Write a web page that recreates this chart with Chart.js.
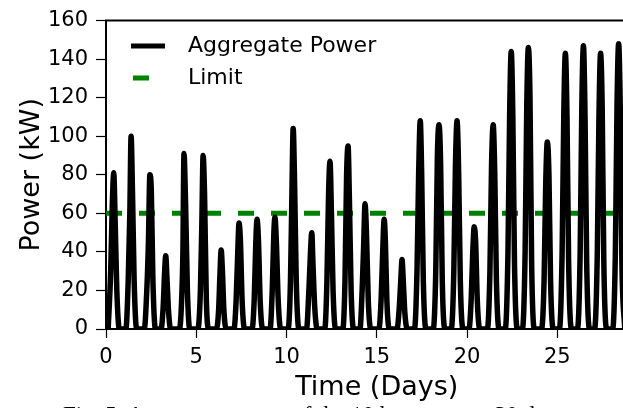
<!DOCTYPE html>
<html>
<head>
<meta charset="utf-8">
<script src="https://cdn.jsdelivr.net/npm/chart.js@4.4.0/dist/chart.umd.min.js"></script>
<style>
    html, body { margin: 0; padding: 0; background: #fff; overflow: hidden; }
    #wrap { position: relative; width: 623px; height: 408px; overflow: hidden; }
    #chart { position: absolute; left: 0; top: 0; }
    #caption { position: absolute; left: 63px; top: 403px; font-family: "Liberation Serif", serif; font-size: 23px; line-height: 23px; white-space: nowrap; color: #000; }
</style>
</head>
<body>
<div id="wrap">
    <canvas id="chart" width="680" height="408"></canvas>
    <div id="caption">Fig. 5: Aggregate power of the 10 houses over 30 days</div>
</div>
<script>
const timeDays = [
    0.12, 0.26, 0.35, 0.43, 0.51, 0.60, 0.74,
    1.10, 1.23, 1.32, 1.39, 1.47, 1.56, 1.70,
    2.12, 2.26, 2.35, 2.43, 2.51, 2.60, 2.74,
    3.05, 3.17, 3.25, 3.31, 3.38, 3.46, 3.58,
    4.07, 4.19, 4.26, 4.32, 4.41, 4.51, 4.64,
    5.09, 5.23, 5.31, 5.38, 5.46, 5.56, 5.70,
    6.12, 6.24, 6.32, 6.38, 6.45, 6.53, 6.66,
    7.09, 7.21, 7.30, 7.37, 7.45, 7.54, 7.68,
    8.09, 8.21, 8.30, 8.37, 8.45, 8.54, 8.68,
    9.09, 9.21, 9.30, 9.36, 9.44, 9.54, 9.68,
    10.09, 10.22, 10.30, 10.37, 10.45, 10.54, 10.69,
    11.11, 11.24, 11.33, 11.40, 11.47, 11.56, 11.70,
    12.12, 12.24, 12.33, 12.41, 12.49, 12.58, 12.72,
    13.12, 13.24, 13.33, 13.41, 13.49, 13.58, 13.72,
    14.07, 14.19, 14.28, 14.35, 14.43, 14.53, 14.67,
    15.12, 15.24, 15.33, 15.41, 15.48, 15.56, 15.70,
    16.12, 16.24, 16.33, 16.40, 16.47, 16.56, 16.70,
    17.09, 17.23, 17.32, 17.41, 17.49, 17.58, 17.73,
    18.13, 18.27, 18.36, 18.45, 18.54, 18.63, 18.78,
    19.13, 19.27, 19.36, 19.45, 19.54, 19.63, 19.78,
    20.11, 20.23, 20.32, 20.40, 20.48, 20.57, 20.71,
    21.13, 21.27, 21.36, 21.45, 21.54, 21.63, 21.78,
    22.12, 22.27, 22.36, 22.45, 22.54, 22.63, 22.79,
    23.07, 23.22, 23.31, 23.40, 23.49, 23.58, 23.74,
    24.13, 24.27, 24.36, 24.45, 24.54, 24.63, 24.78,
    25.12, 25.27, 25.36, 25.45, 25.54, 25.63, 25.79,
    26.12, 26.27, 26.36, 26.45, 26.54, 26.63, 26.79,
    27.07, 27.22, 27.31, 27.40, 27.49, 27.58, 27.74,
    28.07, 28.22, 28.31, 28.40, 28.49, 28.58, 28.74
];
const aggregatePower = [
    0, 30, 65, 81, 55, 20, 0,
    0, 25, 60, 100, 70, 25, 0,
    0, 20, 45, 80, 72, 25, 0,
    0, 12, 30, 38, 26, 10, 0,
    0, 15, 40, 91, 65, 20, 0,
    0, 20, 55, 90, 70, 15, 0,
    0, 10, 30, 41, 30, 10, 0,
    0, 15, 40, 55, 45, 15, 0,
    0, 15, 45, 57, 45, 15, 0,
    0, 20, 50, 58, 45, 15, 0,
    0, 25, 70, 104, 75, 25, 0,
    0, 20, 40, 50, 33, 12, 0,
    0, 25, 70, 87, 60, 20, 0,
    0, 25, 80, 95, 65, 20, 0,
    0, 20, 45, 65, 50, 15, 0,
    0, 15, 40, 57, 45, 15, 0,
    0, 10, 25, 36, 25, 8, 0,
    0, 30, 80, 108, 80, 25, 0,
    0, 30, 90, 106, 85, 25, 0,
    0, 30, 85, 108, 80, 25, 0,
    0, 15, 40, 53, 45, 15, 0,
    0, 30, 85, 106, 80, 25, 0,
    0, 40, 110, 144, 110, 35, 0,
    0, 40, 115, 146, 120, 35, 0,
    0, 25, 75, 97, 80, 25, 0,
    0, 40, 110, 143, 110, 35, 0,
    0, 40, 115, 147, 110, 35, 0,
    0, 40, 110, 143, 115, 35, 0,
    0, 40, 115, 148, 115, 35, 0
];
const limitDays = [0, 30];
const limitPower = [60, 60];
const seriesLabels = ['Aggregate Power', 'Limit'];

function toPoints(xs, ys) {
    return xs.map(function (x, i) {
        return { x: x, y: ys[i] };
    });
}

const axisFont = { family: 'DejaVu Sans', size: 21 };
const titleFont = { family: 'DejaVu Sans', size: 27 };

// matplotlib style legend in the upper left of the axes, plus the top spine
const framePlugin = {
    id: 'frame',
    afterDraw: function (chart) {
        const ctx = chart.ctx;
        const a = chart.chartArea;
        ctx.save();
        ctx.strokeStyle = '#000';
        ctx.lineWidth = 2;
        ctx.beginPath();
        ctx.moveTo(a.left - 1, a.top);
        ctx.lineTo(a.right, a.top);
        ctx.stroke();

        const rows = [{ y: 46, x0: 131, x1: 165 }, { y: 78, x0: 133, x1: 166 }];
        chart.data.datasets.forEach(function (ds, i) {
            const r = rows[i];
            ctx.strokeStyle = ds.borderColor;
            ctx.lineWidth = 5;
            ctx.lineCap = 'butt';
            ctx.setLineDash(ds.borderDash || []);
            ctx.beginPath();
            ctx.moveTo(r.x0, r.y);
            ctx.lineTo(r.x1, r.y);
            ctx.stroke();
            ctx.setLineDash([]);
            ctx.fillStyle = '#000';
            ctx.font = '22px "DejaVu Sans"';
            ctx.textBaseline = 'middle';
            ctx.fillText(ds.label, 188, r.y);
        });
        ctx.restore();
    }
};

const powerChart = new Chart(document.getElementById('chart').getContext('2d'), {
    type: 'line',
    data: {
        datasets: [{
            label: seriesLabels[0],
            data: toPoints(timeDays, aggregatePower),
            borderColor: '#000000',
            borderWidth: 5.5,
            borderJoinStyle: 'round',
            borderCapStyle: 'round',
            cubicInterpolationMode: 'monotone',
            pointRadius: 0,
            fill: false
        }, {
            label: seriesLabels[1],
            data: toPoints(limitDays, limitPower),
            borderColor: '#008000',
            borderWidth: 5,
            borderDash: [16, 17],
            pointRadius: 0,
            fill: false
        }]
    },
    options: {
        responsive: false,
        animation: false,
        layout: { padding: { top: 17, right: 32.5, left: 0, bottom: 0 } },
        plugins: {
            legend: { display: false },
            tooltip: { enabled: false }
        },
        scales: {
            x: {
                type: 'linear',
                min: 0,
                max: 30,
                afterFit: function (s) { s.height = 79; },
                ticks: { stepSize: 5, color: '#000', font: axisFont, padding: 7, maxRotation: 0 },
                grid: { drawOnChartArea: false, color: '#000', tickLength: 9, tickWidth: 1.2 },
                border: { color: '#000', width: 2 },
                title: { display: true, text: 'Time (Days)', color: '#000', font: titleFont, padding: { top: 0, bottom: 4 } }
            },
            y: {
                min: 0,
                max: 160,
                afterFit: function (s) { s.width = 106; },
                ticks: { stepSize: 20, color: '#000', font: axisFont, padding: 8 },
                grid: { drawOnChartArea: false, color: '#000', tickLength: 10, tickWidth: 1.2 },
                border: { color: '#000', width: 2 },
                title: { display: true, text: 'Power (kW)', color: '#000', font: titleFont, padding: { top: 16, bottom: 0 } }
            }
        }
    },
    plugins: [framePlugin]
});
</script>
</body>
</html>
